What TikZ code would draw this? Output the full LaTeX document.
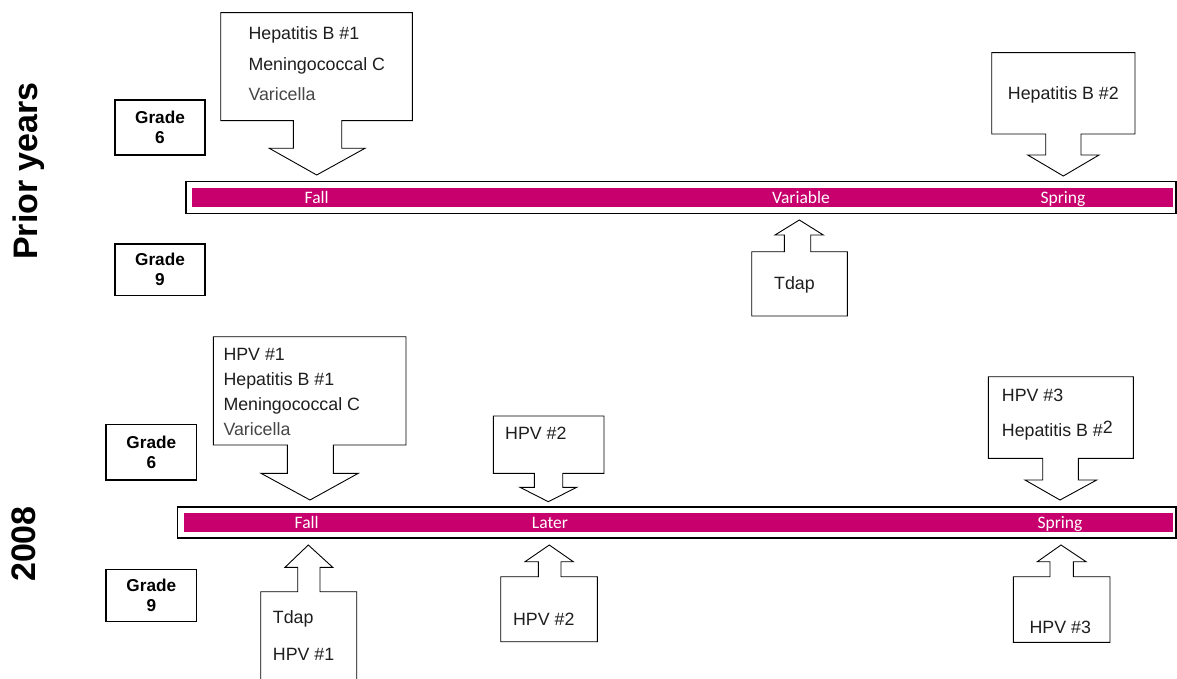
\documentclass[tikz,border=0pt]{standalone}
\usepackage{fontspec}
\setmainfont{Liberation Sans}
\newfontfamily\barfont{Carlito}
\definecolor{barmag}{RGB}{200,0,110}
\definecolor{txt}{RGB}{30,30,30}
\definecolor{txtgray}{RGB}{70,70,70}
\tikzset{
  calloutline/.style={draw=black, line width=0.9pt, fill=white, line join=miter},
  frameline/.style={draw=black, line width=1.3pt, fill=white},
  magbar/.style={fill=barmag, draw=none},
  bartext/.style={text=white, font=\barfont\fontsize{17.5}{18}\selectfont, inner sep=0pt, anchor=base},
  ctext/.style={text=txt, font=\fontsize{17.8}{20}\selectfont, inner sep=0pt, anchor=base west},
  ctextc/.style={text=txt, font=\fontsize{17.8}{20}\selectfont, inner sep=0pt, anchor=base},
  gradebox/.style={draw=black, line width=1.1pt, font=\bfseries\fontsize{17.2}{20}\selectfont, align=center, inner sep=0pt, text=black},
  rowlabel/.style={font=\bfseries\fontsize{34}{36}\selectfont, rotate=90, inner sep=0pt, text=black}
}
% callout: x1, x2, yfar, yatt, shaftL, shaftR, shaftEnd, headL, headR ; tip = coordinate (tip)
\newcommand{\mycallout}[9]{%
  \draw[calloutline] (#1,#3) -- (#2,#3) -- (#2,#4) -- (#6,#4) -- (#6,#7) -- (#9,#7) -- (tip) -- (#8,#7) -- (#5,#7) -- (#5,#4) -- (#1,#4) -- cycle;}
\begin{document}
\begin{tikzpicture}[x=1pt,y=-1pt]
\useasboundingbox (0,0) rectangle (1177,679);
\clip (0,0) rectangle (1177,679);
\fill[white] (0,0) rectangle (1177,679);

% row labels
\node[rowlabel] (prior) at (28.3,171) {Prior years};
\node[rowlabel] (y2008) at (23.5,544) {2008};

% grade boxes
\node[gradebox, minimum width=90pt, minimum height=55pt] (g6a) at (160,127.5) {Grade\\6};
\node[gradebox, minimum width=90pt, minimum height=51.7pt] (g9a) at (160,269.85) {Grade\\9};
\node[gradebox, minimum width=90.7pt, minimum height=55.7pt] (g6b) at (151.35,452.15) {Grade\\6};
\node[gradebox, minimum width=90.7pt, minimum height=52.4pt] (g9b) at (151.35,595.5) {Grade\\9};

% timeline bars
\draw[frameline] (186,181.7) rectangle (1176,213.3);
\fill[magbar] (192,188.3) rectangle (1172.5,206.7);
\draw[frameline] (177.3,507) rectangle (1176,538);
\fill[magbar] (184,512.5) rectangle (1172.5,531.7);

\node[bartext] (fall1) at (316.7,203.4) {Fall};
\node[bartext] (var1) at (801,203.6) {Variable};
\node[bartext] (spr1) at (1063,203.2) {Spring};
\node[bartext] (fall2) at (306.7,528) {Fall};
\node[bartext] (later2) at (550,528.4) {Later};
\node[bartext] (spr2) at (1060,528.4) {Spring};

% --- Prior years callouts
\coordinate (tip) at (316.7,175);
\mycallout{220.7}{412.3}{12.7}{120.7}{293.3}{341.7}{148.3}{269.3}{365}
\node[ctext] (a1) at (248.3,40) {Hepatitis B \#1};
\node[ctext] (a2) at (248.3,70.3) {Meningococcal C};
\node[ctext, text=txtgray] (a3) at (248.3,100.5) {Varicella};

\coordinate (tip) at (1063.3,176);
\mycallout{991.7}{1135}{52.7}{134}{1045.7}{1081}{155}{1027.7}{1099}
\node[ctextc] (b1) at (1063.3,100) {Hepatitis B \#2};

\coordinate (tip) at (799.3,220);
\mycallout{751.7}{847.3}{316}{251.7}{784.3}{810.7}{235}{775}{823.3}
\node[ctextc] (c1) at (794.5,289.3) {Tdap};

% --- 2008 callouts
\coordinate (tip) at (310,500);
\mycallout{213.3}{406}{336.7}{445}{287.3}{333.3}{473.3}{261}{358.3}
\node[ctext] (d1) at (223.3,360.7) {HPV \#1};
\node[ctext] (d2) at (223.3,385.5) {Hepatitis B \#1};
\node[ctext] (d3) at (223.3,410.7) {Meningococcal C};
\node[ctext, text=txtgray] (d4) at (223.3,435.3) {Varicella};

\coordinate (tip) at (548.3,501.7);
\mycallout{493.3}{604}{416}{473.3}{534.3}{562.7}{487.3}{520}{576.7}
\node[ctext] (e1) at (505,439.3) {HPV \#2};

\coordinate (tip) at (549.3,545);
\mycallout{500.7}{597.3}{641.7}{576.7}{538.3}{561}{561.7}{525}{573.3}
\node[ctextc] (f1) at (543.8,625) {HPV \#2};

\coordinate (tip) at (1060,500);
\mycallout{988.3}{1133.3}{376.7}{458.3}{1042.7}{1078.3}{480}{1025}{1096.7}
\node[ctext] (g1) at (1001.7,401) {HPV \#3};
\node[ctext] (g2) at (1001.7,436.7) {Hepatitis B \#\raisebox{3pt}{2}};

\coordinate (tip) at (1061,545);
\mycallout{1013.3}{1110}{642.3}{576.7}{1050}{1073.3}{561.7}{1037.3}{1086}
\node[ctextc] (h1) at (1060.3,633.3) {HPV \#3};

\coordinate (tip) at (308.3,545);
\mycallout{260.7}{356.7}{700}{591.7}{297.7}{320}{567.3}{285}{332.7}
\node[ctext] (i1) at (272.7,623.3) {Tdap};
\node[ctext] (i2) at (272.7,660) {HPV \#1};
\end{tikzpicture}
\end{document}
